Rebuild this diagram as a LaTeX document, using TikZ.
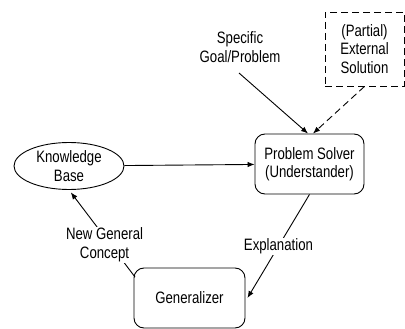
\documentclass[tikz,border=0pt]{standalone}
\usepackage{fontspec}
\setmainfont[FakeStretch=0.8]{Liberation Sans}
\usetikzlibrary{shapes.geometric,arrows.meta}
\tikzset{>={Latex[length=7pt,width=5.5pt]}}

\begin{document}
\begin{tikzpicture}[x=1pt,y=1pt,line width=0.9pt,
    every node/.style={font=\fontsize{16.5}{18.3}\selectfont,align=center},
    box/.style={draw,rounded corners=10pt,minimum width=110pt,minimum height=60pt},
    lbl/.style={fill=white,inner sep=1pt}]
  \clip (0,0) rectangle (405,-329);
  \node[draw,ellipse,inner sep=0pt,minimum width=110pt,minimum height=47pt] (kb) at (69,-166) {Knowledge\\Base};
  \node[box,minimum width=109pt] (ps) at (309.5,-164) {Problem Solver\\(Understander)};
  \node[box,minimum width=111pt] (gen) at (189.5,-298) {Generalizer};
  \node[draw,dash pattern=on 7pt off 4pt,minimum width=79pt,minimum height=74pt] (ext) at (364.5,-49) {(Partial)\\External\\Solution};
  \node (goal) at (240,-47) {Specific\\Goal/Problem};
  \coordinate (g0) at (239,-73);
  \coordinate (n0) at (135,-277);
  \draw[->] (g0) -- ([xshift=-1.5pt]ps.north);
  \draw[->,dash pattern=on 7pt off 4pt] (ext.south) -- ([xshift=3.5pt]ps.north);
  \draw[->] (kb) -- (ps);
  \draw[->] (ps.south) -- node[lbl]{Explanation} ([xshift=2pt]gen.east);
  \draw[->,shorten >=3pt] (n0) -- node[lbl,pos=0.37,xshift=-6pt]{New General\\Concept} (kb.south);
\end{tikzpicture}
\end{document}
